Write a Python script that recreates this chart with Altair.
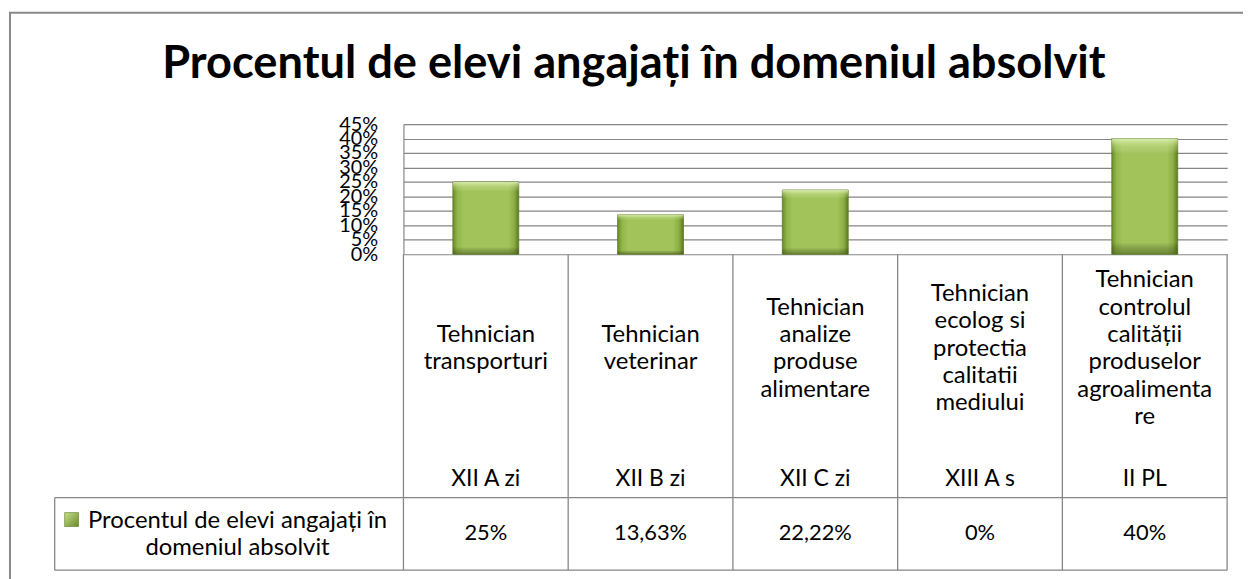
import altair as alt
import pandas as pd

# ---- data ----
categories = ["XII A zi", "XII B zi", "XII C zi", "XIII A s", "II PL"]
specialties = [
    "Tehnician\ntransporturi",
    "Tehnician\nveterinar",
    "Tehnician\nanalize\nproduse\nalimentare",
    "Tehnician\necolog si\nprotectia\ncalitatii\nmediului",
    "Tehnician\ncontrolul\ncalității\nproduselor\nagroalimenta\nre",
]
values = [25, 13.63, 22.22, 0, 40]
value_labels = ["25%", "13,63%", "22,22%", "0%", "40%"]
y_ticks = [0, 5, 10, 15, 20, 25, 30, 35, 40, 45]
series_name = "Procentul de elevi angajați în\ndomeniul absolvit"
title_text = "Procentul de elevi angajați în domeniul absolvit"

df = pd.DataFrame({"cls": categories, "spec": specialties,
                   "val": values, "lab": value_labels})
df["nlines"] = df["spec"].str.count("\n") + 1

FONT = "Lato"
LINE = "#868686"
W, H = 829, 131
LH = 27.5          # line height of wrapped table text
SPEC_CENTER = 226  # vertical centre of the specialty row (px below plot top)

xs = alt.X("cls:N", sort=categories, axis=None,
           scale=alt.Scale(paddingInner=0, paddingOuter=0))

base = alt.Chart(df)

bar_fill = alt.Gradient(
    gradient="linear", x1=0, x2=1, y1=0, y2=0,
    stops=[alt.GradientStop(offset=0, color="#6a8a28"),
           alt.GradientStop(offset=0.07, color="#93b64a"),
           alt.GradientStop(offset=0.16, color="#a1c35a"),
           alt.GradientStop(offset=0.84, color="#a1c35a"),
           alt.GradientStop(offset=0.93, color="#8cae44"),
           alt.GradientStop(offset=1, color="#5c7a22")])
bar_shade = alt.Gradient(
    gradient="linear", x1=0, x2=0, y1=0, y2=1,
    stops=[alt.GradientStop(offset=0, color="rgba(235,248,200,0.8)"),
           alt.GradientStop(offset=0.07, color="rgba(215,238,160,0.3)"),
           alt.GradientStop(offset=0.13, color="rgba(255,255,255,0)"),
           alt.GradientStop(offset=0.9, color="rgba(0,0,0,0)"),
           alt.GradientStop(offset=1, color="rgba(50,70,15,0.45)")])

y_axis = alt.Axis(values=y_ticks, labelExpr="datum.value + '%'",
                  grid=True, gridColor=LINE, gridWidth=1.2,
                  domain=True, domainColor=LINE, domainWidth=1.2,
                  ticks=False, labelPadding=26, labelFontSize=20,
                  labelFont=FONT, labelColor="#000",
                  labelOverlap=False, labelFlush=False,
                  labelBound=False, title=None)
y_scale = alt.Scale(domain=[0, 45], nice=False)

bars = base.mark_bar(width=alt.RelativeBandSize(0.4), fill=bar_fill,
                     stroke="#5d7a25", strokeWidth=0.8).encode(
    x=xs,
    y=alt.Y("val:Q", scale=y_scale, axis=y_axis),
    strokeOpacity=alt.condition("datum.val > 0", alt.value(1), alt.value(0)),
)
bars_shade = base.mark_bar(width=alt.RelativeBandSize(0.4), fill=bar_shade).encode(
    x=xs, y=alt.Y("val:Q", scale=y_scale, axis=y_axis))

one = alt.Data(values=[{}])

# table grid lines
vlines = base.mark_rule(color=LINE, strokeWidth=1.3).encode(
    x=alt.X("cls:N", sort=categories, bandPosition=0, axis=None),
    y=alt.value(H), y2=alt.value(449))
vline_right = alt.Chart(one).mark_rule(color=LINE, strokeWidth=1.3).encode(
    x=alt.value(W), y=alt.value(H), y2=alt.value(449))
hline_mid = alt.Chart(one).mark_rule(color=LINE, strokeWidth=1.3).encode(
    x=alt.value(-351), x2=alt.value(W), y=alt.value(376))
hline_bot = alt.Chart(one).mark_rule(color=LINE, strokeWidth=1.3).encode(
    x=alt.value(-351), x2=alt.value(W), y=alt.value(449))
vline_leg = alt.Chart(one).mark_rule(color=LINE, strokeWidth=1.3).encode(
    x=alt.value(-351), y=alt.value(376), y2=alt.value(449))

# outer frame of the chart area
frame_left = alt.Chart(one).mark_rule(color="#898989", strokeWidth=2).encode(
    x=alt.value(-396), y=alt.value(-112), y2=alt.value(460))
frame_top = alt.Chart(one).mark_rule(color="#898989", strokeWidth=2).encode(
    x=alt.value(-397), x2=alt.value(845), y=alt.value(-112))

# table texts: wrapped specialty names, one layer per line count so the
# block is centred vertically in its row
spec_layers = []
for k in sorted(df["nlines"].unique()):
    spec_layers.append(
        base.transform_filter(f"datum.nlines == {int(k)}").mark_text(
            font=FONT, fontSize=24, lineBreak="\n", lineHeight=LH,
            baseline="middle", align="center", color="#000").encode(
            x=xs, y=alt.value(SPEC_CENTER - (int(k) - 1) * LH / 2),
            text="spec:N"))

cls_text = base.mark_text(font=FONT, fontSize=23, baseline="middle",
                          align="center", color="#000").encode(
    x=xs, y=alt.value(357), text="cls:N")
val_text = base.mark_text(font=FONT, fontSize=22, baseline="middle",
                          align="center", color="#000").encode(
    x=xs, y=alt.value(412), text="lab:N")

leg_text = alt.Chart(alt.Data(values=[{"t": series_name}])).mark_text(
    font=FONT, fontSize=24, lineBreak="\n", lineHeight=27,
    baseline="middle", align="center", color="#000").encode(
    x=alt.value(-167), y=alt.value(400), text="t:N")
leg_fill = alt.Gradient(
    gradient="linear", x1=0, x2=1, y1=0, y2=1,
    stops=[alt.GradientStop(offset=0, color="#c5e08a"),
           alt.GradientStop(offset=1, color="#6a8a28")])
leg_mark = alt.Chart(one).mark_rect(fill=leg_fill, stroke="#5d7a25",
                                    strokeWidth=0.6).encode(
    x=alt.value(-341), x2=alt.value(-327), y=alt.value(391), y2=alt.value(405))

title = alt.Chart(alt.Data(values=[{"t": title_text}])).mark_text(
    font=FONT, fontSize=45.5, fontWeight="bold", baseline="alphabetic",
    align="center", color="#000").encode(
    x=alt.value(232), y=alt.value(-46), text="t:N")

chart = alt.layer(
    frame_left, frame_top, title,
    bars, bars_shade,
    vlines, vline_right, hline_mid, hline_bot, vline_leg,
    *spec_layers, cls_text, val_text, leg_text, leg_mark,
).properties(
    width=W, height=H,
    autosize=alt.AutoSizeParams(type="none"),
    padding={"left": 398, "top": 115, "right": 17, "bottom": 325},
    background="white",
).configure_view(stroke=None)

chart.save("out.html", embed_options={"renderer": "svg", "actions": False})
